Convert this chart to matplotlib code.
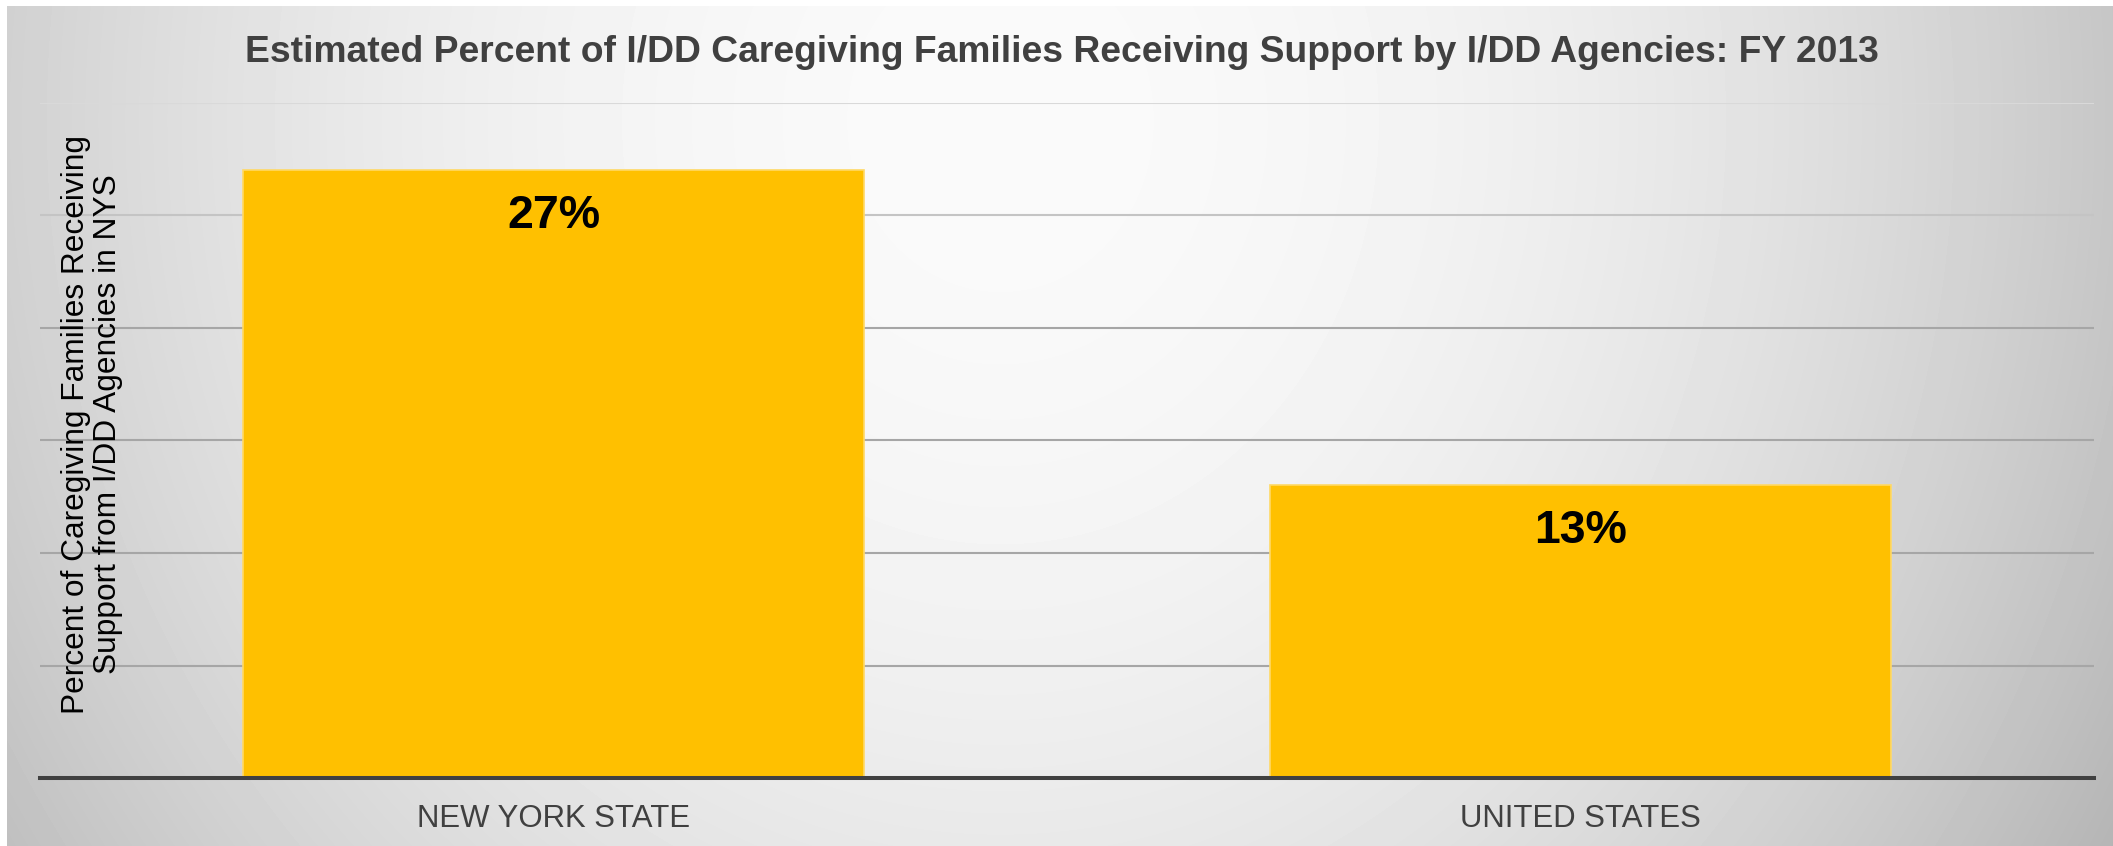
import numpy as np
import matplotlib
matplotlib.use('Agg')
import matplotlib.pyplot as plt

plt.rcParams['font.family'] = ['Liberation Sans', 'DejaVu Sans']

categories = ['NEW YORK STATE', 'UNITED STATES']
percent = [27, 13]
labels = ['27%', '13%']
title = 'Estimated Percent of I/DD Caregiving Families Receiving Support by I/DD Agencies: FY 2013'
ylabel = 'Percent of Caregiving Families Receiving\nSupport from I/DD Agencies in NYS'

W, H = 2113, 846
fig = plt.figure(figsize=(W / 100, H / 100), dpi=100)
fig.patch.set_facecolor('white')

# radial grey backdrop, white slit on top and left
bg = fig.add_axes([0, 0, 1, 1], zorder=-5)
yy, xx = np.mgrid[0:H, 0:W]
d = np.sqrt(((xx - 1000) / 1250.0) ** 2 + ((yy - 120) / 1400.0) ** 2)
val = np.clip(250 - 65 * d ** 2, 180, 252) / 255.0
val[:6, :] = 1.0
val[:, :7] = 1.0
bg.imshow(val, cmap='gray', vmin=0, vmax=1, aspect='auto', interpolation='bilinear')
bg.axis('off')

ax = fig.add_axes([40 / W, 68 / H, (2094 - 40) / W, (778 - 103) / H])
ax.set_facecolor('none')

x = np.arange(len(categories))
ax.bar(x, percent, width=0.605, color='#FFC000', edgecolor='#FFD966', linewidth=1.2, zorder=3)
ax.set_xlim(-0.5, 1.5)
ax.set_ylim(0, 30)
ax.set_yticks(np.arange(0, 31, 5))
ax.yaxis.grid(True, color='#a6a6a6', linewidth=1.5, zorder=0)
ax.set_axisbelow(True)
ax.tick_params(axis='y', length=0, labelleft=False)
ax.tick_params(axis='x', length=0, pad=18.5, labelsize=22.4, labelcolor='#404040')
ax.set_xticks(x)
ax.set_xticklabels(categories)
for s in ['top', 'left', 'right']:
    ax.spines[s].set_visible(False)
ax.spines['bottom'].set_color('#404040')
ax.spines['bottom'].set_linewidth(2.9)
ax.spines['bottom'].set_zorder(4)

# top gridlines fade out in the bright part
glines = ax.yaxis.get_gridlines()
glines[-1].set_color('#d9d9d9')
glines[-2].set_color('#c4c4c4')

for xi, v, lab in zip(x, percent, labels):
    ax.annotate(lab, xy=(xi, v), xytext=(0, -41.5), textcoords='offset points',
                ha='center', va='baseline', fontsize=33.5, fontweight='bold',
                color='black', zorder=5)

fig.text(1062 / W, 1 - 62 / H, title, ha='center', va='baseline',
         fontsize=26.8, fontweight='bold', color='#404040')
fig.text(92 / W, 1 - 424 / H, ylabel, rotation=90, ha='center', va='center',
         multialignment='center', fontsize=22.8, color='black', linespacing=1.05)

fig.savefig('out.png', dpi=100)
